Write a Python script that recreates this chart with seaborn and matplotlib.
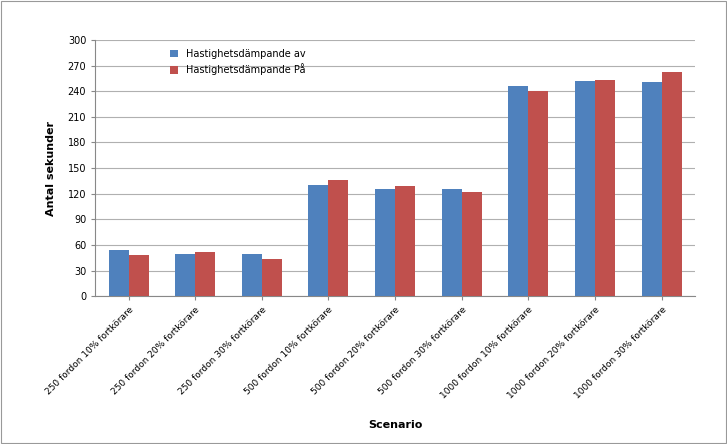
import matplotlib
matplotlib.use("Agg")
import matplotlib.pyplot as plt
import seaborn as sns
import pandas as pd

scenarios = ["250 fordon 10% fortkörare", "250 fordon 20% fortkörare", "250 fordon 30% fortkörare",
             "500 fordon 10% fortkörare", "500 fordon 20% fortkörare", "500 fordon 30% fortkörare",
             "1000 fordon 10% fortkörare", "1000 fordon 20% fortkörare", "1000 fordon 30% fortkörare"]
series = ["Hastighetsdämpande av", "Hastighetsdämpande På"]
values_av = [54, 49, 49, 130, 125, 126, 246, 252, 251]
values_pa = [48, 52, 44, 136, 129, 122, 240, 253, 263]

df = pd.DataFrame({
    "Scenario": scenarios * 2,
    "Antal sekunder": values_av + values_pa,
    "Serie": [series[0]] * len(scenarios) + [series[1]] * len(scenarios),
})

plt.rcParams["font.family"] = "DejaVu Sans"
fig = plt.figure(figsize=(7.27, 4.44), dpi=100)
ax = fig.add_axes([0.131, 0.333, 0.825, 0.577])
sns.barplot(data=df, x="Scenario", y="Antal sekunder", hue="Serie",
            palette=["#4F81BD", "#C0504D"], width=0.6, saturation=1, ax=ax, zorder=3)
ax.set_ylim(0, 300)
ax.set_yticks(range(0, 301, 30))
ax.yaxis.grid(True, color="#b0b0b0", linewidth=0.8, zorder=0)
ax.set_axisbelow(True)
for s in ["top", "right"]:
    ax.spines[s].set_visible(False)
ax.spines["left"].set_color("#888888")
ax.spines["bottom"].set_color("#888888")
ax.tick_params(axis="y", labelsize=7, length=3, color="#888888")
ax.tick_params(axis="x", labelsize=6.5, length=3, color="#888888")
plt.setp(ax.get_xticklabels(), rotation=45, ha="right", rotation_mode="anchor")
ax.set_xlabel("Scenario", fontsize=8, fontweight="bold", labelpad=14)
ax.set_ylabel("Antal sekunder", fontsize=8, fontweight="bold", labelpad=8)
ax.legend(title=None, loc="upper left", bbox_to_anchor=(0.11, 1.0), frameon=False,
          fontsize=7, handlelength=0.8, handleheight=0.8)
fig.patches.append(plt.Rectangle((0.002, 0.002), 0.996, 0.996, transform=fig.transFigure,
                                 fill=False, edgecolor="#999999", linewidth=0.8))
fig.savefig("out.png", dpi=100)
